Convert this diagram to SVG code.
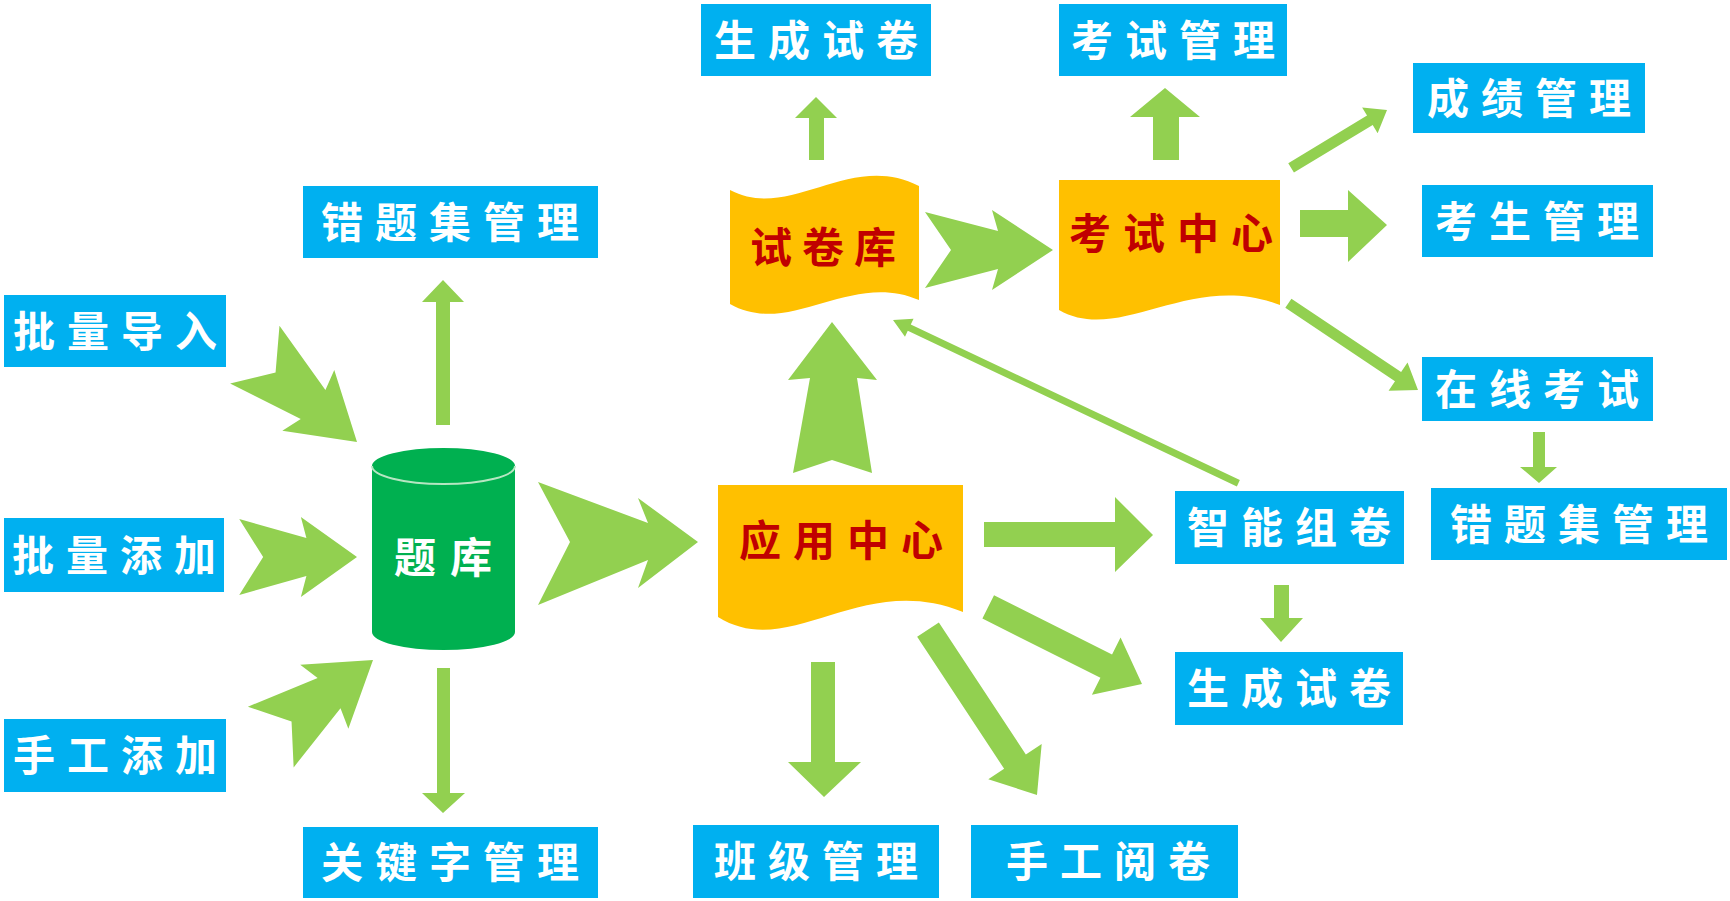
<svg xmlns="http://www.w3.org/2000/svg" width="1730" height="901" viewBox="0 0 1730 901">
<style>
.box{fill:#00B0F0}
.bt{font-family:"Noto Sans CJK SC","Noto Sans CJK TC",sans-serif;font-size:42px;font-weight:700;fill:#FFFFFF;text-anchor:middle;letter-spacing:12px}
.doc{fill:#FFC000}
.dt{font-family:"Noto Sans CJK SC","Noto Sans CJK TC",sans-serif;font-size:42px;font-weight:700;fill:#C00000;text-anchor:middle;letter-spacing:12px}
.arr{fill:#92D050}
</style>
<defs>
<path id="chev" d="M-128,-38 L-55,-19 L-61,-40 L0,0 L-61,40 L-55,19 L-128,38 L-102,0 Z"/>
</defs>
<rect width="1730" height="901" fill="#FFFFFF"/>

<g id="connectors" class="arr">
<use href="#chev" transform="translate(357,442) rotate(40.5) scale(1.05,1)"/>
<use href="#chev" transform="translate(357,557) scale(0.92,1)"/>
<use href="#chev" transform="translate(373,660) rotate(-37)"/>
<use href="#chev" transform="translate(1053,250)"/>
<path d="M538,482 L648,523 L638,498 L698,542 L638,588 L648,560 L538,605 L570,542 Z"/>
<path d="M436,425 V302 H422 L443,280 L464,302 H450 V425 Z"/>
<path d="M437,668 H450 V793 H465 L443,813 L422,793 H437 Z"/>
<path d="M809,160 V118 H795 L816,97 L837,118 H824 V160 Z"/>
<path d="M1153,160 V117 H1130 L1165,88 L1200,117 H1179 V160 Z"/>
<path transform="translate(1387,110) rotate(-31.1)" d="M-112,-5.5 H-20 V-15 L0,0 L-20,15 V5.5 H-112 Z"/>
<path d="M1300,210 H1348 V190 L1387,225 L1348,262 V237 H1300 Z"/>
<path transform="translate(1418,390) rotate(33.8)" d="M-156,-5.5 H-24 V-17 L0,0 L-24,17 V5.5 H-156 Z"/>
<path d="M1533,432 H1545 V467 H1557 L1539,483 L1520,467 H1533 Z"/>
<path d="M832,322 L877,380 L857,378 L872,473 L832,460 L793,473 L810,378 L788,380 Z"/>
<path transform="translate(893,320) rotate(205.3)" d="M-382,-3.5 H-18 V-10 L0,0 L-18,10 V3.5 H-382 Z"/>
<path d="M984,522 H1115 V497 L1153,535 L1115,572 V547 H984 Z"/>
<path transform="translate(1142,684) rotate(26.6)" d="M-172,-13 H-40 V-32 L0,0 L-40,32 V13 H-172 Z"/>
<path transform="translate(1037,795) rotate(56.6)" d="M-198,-13 H-40 V-32 L0,0 L-40,32 V13 H-198 Z"/>
<path d="M811,662 H835 V762 H861 L824,797 L788,762 H811 Z"/>
<path d="M1274,585 H1289 V618 H1303 L1281,642 L1260,618 H1274 Z"/>
</g>

<g id="tiku">
<path d="M372,466 A71.5,18 0 0 1 515,466 V632 A71.5,18 0 0 1 372,632 Z" fill="#00B050"/>
<path d="M372,466 A71.5,18 0 0 0 515,466" fill="none" stroke="#B6E6C2" stroke-width="2"/>
<text class="bt" x="450" y="573" style="letter-spacing:14px">题库</text>
</g>

<g id="shijuanku">
<path class="doc" d="M730,190 C790,222 850,150 919,186 V300 C850,270 790,338 730,304 Z"/>
<text class="dt" x="828" y="263" style="letter-spacing:10px">试卷库</text>
</g>

<g id="kaoshizhongxin">
<path class="doc" d="M1059,180 H1280 V305 C1190,270 1120,345 1059,310 Z"/>
<text class="dt" x="1177" y="249">考试中心</text>
</g>

<g id="yingyongzhongxin">
<path class="doc" d="M718,485 H963 V612 C860,570 790,662 718,617 Z"/>
<text class="dt" x="847" y="556">应用中心</text>
</g>

<g id="scsj-top"><rect class="box" x="701" y="4" width="230" height="72"/><text class="bt" x="822" y="56">生成试卷</text></g>
<g id="ksgl"><rect class="box" x="1059" y="4" width="228" height="72"/><text class="bt" x="1179" y="56">考试管理</text></g>
<g id="cjgl"><rect class="box" x="1413" y="63" width="232" height="70"/><text class="bt" x="1535" y="114">成绩管理</text></g>
<g id="ctjgl-left"><rect class="box" x="303" y="186" width="295" height="72"/><text class="bt" x="456" y="238">错题集管理</text></g>
<g id="ksgl2"><rect class="box" x="1422" y="185" width="231" height="72"/><text class="bt" x="1543" y="237">考生管理</text></g>
<g id="pldr"><rect class="box" x="4" y="295" width="222" height="72"/><text class="bt" x="121" y="347">批量导入</text></g>
<g id="zxks"><rect class="box" x="1422" y="357" width="231" height="64"/><text class="bt" x="1543" y="405">在线考试</text></g>
<g id="pltj"><rect class="box" x="4" y="518" width="220" height="74"/><text class="bt" x="120" y="571">批量添加</text></g>
<g id="znzj"><rect class="box" x="1175" y="491" width="229" height="73"/><text class="bt" x="1295" y="543">智能组卷</text></g>
<g id="ctjgl-right"><rect class="box" x="1431" y="488" width="296" height="72"/><text class="bt" x="1585" y="540">错题集管理</text></g>
<g id="scsj-bottom"><rect class="box" x="1175" y="652" width="228" height="73"/><text class="bt" x="1295" y="704">生成试卷</text></g>
<g id="sgtj"><rect class="box" x="4" y="719" width="222" height="73"/><text class="bt" x="121" y="771">手工添加</text></g>
<g id="gjzgl"><rect class="box" x="303" y="827" width="295" height="71"/><text class="bt" x="456" y="878">关键字管理</text></g>
<g id="bjgl"><rect class="box" x="693" y="825" width="246" height="73"/><text class="bt" x="822" y="877">班级管理</text></g>
<g id="sgyj"><rect class="box" x="971" y="825" width="267" height="73"/><text class="bt" x="1114" y="877">手工阅卷</text></g>
</svg>
